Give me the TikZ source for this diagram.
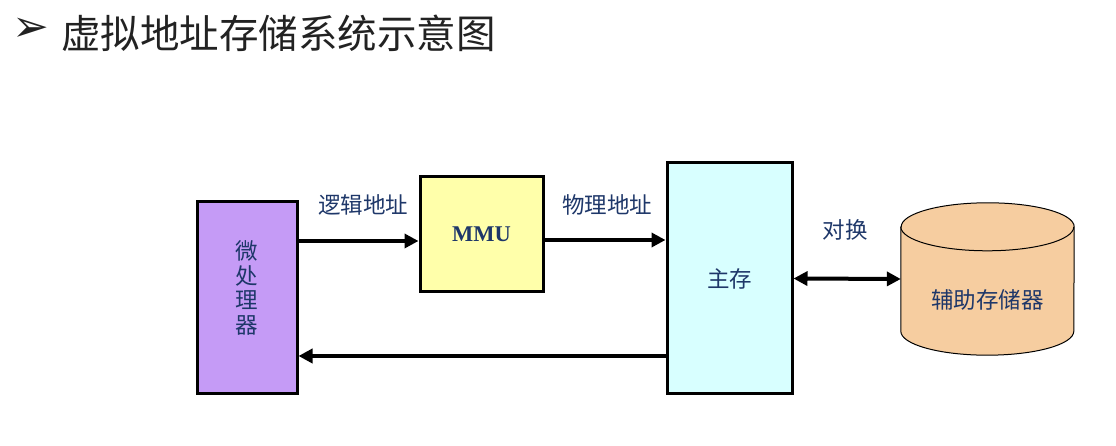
\documentclass[tikz,border=0pt]{standalone}
\usepackage{fontspec}
\setmainfont{Liberation Serif}
\newfontfamily\cjk{Noto Sans CJK SC}
\newfontfamily\dingfont{DejaVu Sans}
\usetikzlibrary{arrows.meta}
\usetikzlibrary{positioning}
\definecolor{ink}{RGB}{30,55,105}
\definecolor{headink}{RGB}{34,34,34}
\definecolor{cpufill}{RGB}{197,155,246}
\definecolor{mmufill}{RGB}{255,255,170}
\definecolor{memfill}{RGB}{216,255,255}
\definecolor{diskfill}{RGB}{246,205,160}

\begin{document}
\begin{tikzpicture}[x=1pt,y=1pt,
  box/.style={draw,line width=3pt,inner sep=0pt},
  link/.style={line width=4pt,-{Triangle[length=14pt,width=14pt]}},
  swap/.style={line width=4pt,{Triangle[length=14pt,width=14pt]}-{Triangle[length=14pt,width=14pt]}},
  tag/.style={text=ink,inner sep=0pt,font=\cjk\fontsize{22.5}{24.5}\selectfont}]
  \useasboundingbox (0,0) rectangle (1116,446);
  % title
  \node[anchor=west,inner sep=0pt,text=headink,font=\cjk\fontsize{39.5}{46}\selectfont] (head) at (61,413) {虚拟地址存储系统示意图};
  \node[left=11pt of head,yshift=3pt,inner sep=0pt,text=headink,font=\dingfont\fontsize{44}{50}\selectfont] (mark) {➢};
  % boxes
  \node[box,fill=cpufill,minimum width=100pt,minimum height=192pt] (cpu) at (247,148) {};
  \node[tag,align=center] (cpuname) at ([yshift=10pt]cpu.center) {微\\处\\理\\器};
  \node[box,fill=mmufill,minimum width=123pt,minimum height=115pt,text=ink,font=\bfseries\fontsize{22.5}{26}\selectfont] (mmu) at (481.5,211.5) {MMU};
  \node[box,fill=memfill,minimum width=125pt,minimum height=231pt,tag] (mem) at (729.5,167.5) {主存};
  % disk
  \node[inner sep=0pt,minimum width=173pt,minimum height=152pt] (disk) at (987.5,167) {};
  \filldraw[fill=diskfill,line width=1pt] ([yshift=-24pt]disk.north west) -- ([yshift=24pt]disk.south west)
    arc[start angle=180,end angle=360,x radius=86.5pt,y radius=24pt] -- ([yshift=-24pt]disk.north east)
    arc[start angle=0,end angle=180,x radius=86.5pt,y radius=24pt] -- cycle;
  \draw[line width=1pt] ([yshift=-24pt]disk.north west) arc[start angle=180,end angle=360,x radius=86.5pt,y radius=24pt];
  \node[tag] (diskname) at ([yshift=-21pt]disk.center) {辅助存储器};
  % links
  \draw[link] ([yshift=-6.5pt]mmu.west -| cpu.east) -- ([yshift=-6.5pt]mmu.west);
  \draw[link] ([yshift=-5.5pt]mmu.east) -- ([yshift=-5.5pt]mmu.east -| mem.west);
  \draw[link] ([yshift=-58pt]cpu.east -| mem.west) -- ([yshift=-58pt]cpu.east);
  \draw[swap] (mem.east) -- (disk.west);
  % labels
  \node[tag] (logic) at (363,241) {逻辑地址};
  \node[tag] (phys) at (607,241) {物理地址};
  \node[tag] (swapname) at (845,216) {对换};
\end{tikzpicture}
\end{document}
